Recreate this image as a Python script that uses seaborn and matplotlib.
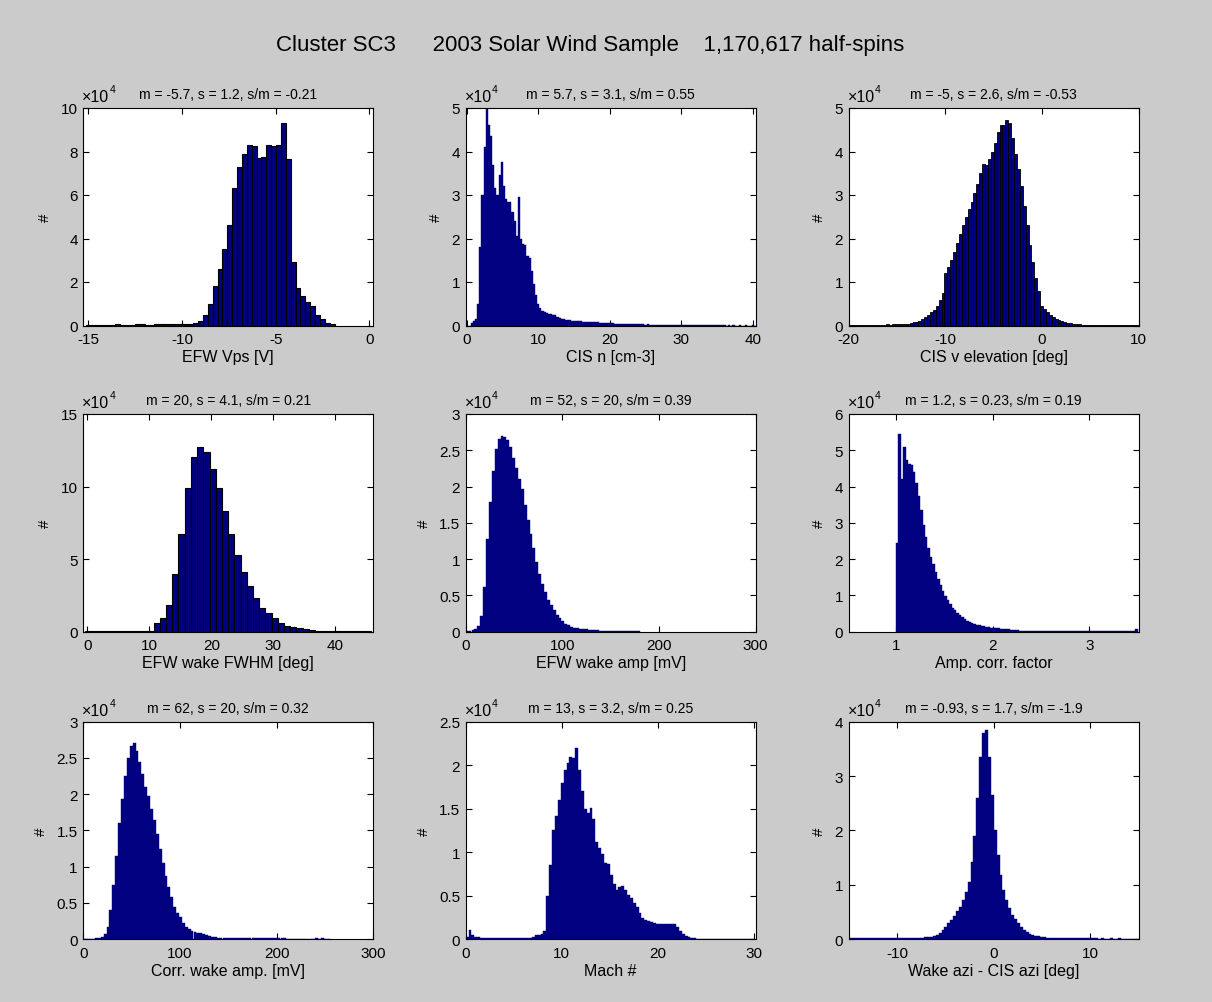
import numpy as np
import pandas as pd
import matplotlib
matplotlib.use("Agg")
import matplotlib.pyplot as plt
import seaborn as sns
from matplotlib.ticker import FuncFormatter, FixedLocator

# ---------------- data (bin heights in units of 1e4 counts) ----------------
SCALE = 1e4

main_title = "Cluster SC3      2003 Solar Wind Sample    1,170,617 half-spins"

# Panel 1: EFW Vps [V]
vps_start, vps_width = -15.12, 0.26
vps_counts = [0.01, 0.005, 0.01, 0.01, 0.01, 0.03, 0.05, 0.02, 0.02, 0.02, 0.05,
              0.05, 0.02, 0.03, 0.05, 0.05, 0.05, 0.05, 0.06, 0.06, 0.07, 0.08,
              0.12, 0.22, 0.5, 1.0, 1.8, 2.6, 3.5, 4.6, 6.3, 7.3, 7.9, 8.3, 8.25,
              7.7, 7.75, 8.3, 8.25, 8.3, 9.3, 7.65, 2.9, 1.73, 1.35, 1.1, 0.9,
              0.5, 0.3, 0.12, 0.05]

# Panel 2: CIS n [cm-3]
cisn_start, cisn_width = -0.05, 0.3
cisn_counts = [0, 0, 0.05, 0.1, 0.15, 0.5, 1.8, 3.0, 4.1, 4.98,
               4.6, 4.35, 3.7, 3.15, 3.0, 3.45, 3.75, 3.2, 2.9, 2.85,
               2.85, 2.6, 2.4, 2.05, 2.95, 2.0, 1.88, 1.85, 1.6, 1.55,
               1.26, 0.95, 0.69, 0.5, 0.4, 0.33, 0.3, 0.28, 0.27, 0.26,
               0.25, 0.24, 0.2, 0.18, 0.15, 0.14, 0.13, 0.12, 0.12, 0.11,
               0.11, 0.1, 0.1, 0.1, 0.09, 0.09, 0.085, 0.08, 0.08, 0.075,
               0.07, 0.07, 0.065, 0.06, 0.06, 0.055, 0.05, 0.05, 0.05, 0.045,
               0.045, 0.04, 0.04, 0.04, 0.035, 0.03, 0.03, 0.03, 0.03, 0.025,
               0.025, 0.025, 0.025, 0.02, 0.025, 0.02, 0.02, 0.02, 0.02, 0.02,
               0.02, 0.02, 0.018, 0.02, 0.018, 0.018, 0.015, 0.018, 0.015, 0.015,
               0.015, 0.015, 0.015, 0.012, 0.015, 0.012, 0.012, 0.012, 0.01, 0.012,
               0.01, 0.01, 0.01, 0.01, 0.01, 0.008, 0.01, 0.008, 0.005, 0.006,
               0.004, 0.0, 0.008, 0.0, 0.003, 0.0, 0.0, 0.006, 0.0, 0.0,
               0.006, 0.0, 0.0, 0.004, 0.0]

# Panel 3: CIS v elevation [deg]
elev_start, elev_width = -20.0, 0.3
elev_counts = [0.01, 0.01, 0.01, 0.01, 0.01, 0.01, 0.02, 0.01, 0.02, 0.02,
               0.02, 0.02, 0.02, 0.03, 0.02, 0.03, 0.03, 0.03, 0.03, 0.04,
               0.04, 0.05, 0.07, 0.08, 0.10, 0.14, 0.19, 0.24, 0.30, 0.36,
               0.45, 0.58, 0.75, 1.2, 1.35, 1.5, 1.7, 1.9, 2.1, 2.3,
               2.5, 2.68, 2.85, 3.05, 3.25, 3.5, 3.72, 3.7, 3.82, 3.98,
               4.2, 4.45, 4.6, 4.62, 4.72, 4.65, 4.3, 3.95, 3.6, 3.2,
               2.75, 2.3, 1.85, 1.45, 1.1, 0.8, 0.45, 0.38, 0.3, 0.25,
               0.2, 0.16, 0.13, 0.1, 0.08, 0.06, 0.05, 0.04, 0.03, 0.03,
               0.02, 0.02, 0.02, 0.02, 0.02, 0.02, 0.015, 0.015, 0.015, 0.01,
               0.01, 0.01, 0.01, 0.01, 0.01, 0.01, 0.01, 0.01, 0.02, 0.01]

# Panel 4: EFW wake FWHM [deg]
fwhm_start, fwhm_width = -0.3, 1.0
fwhm_counts = [0.005, 0.005, 0.005, 0.005, 0.005, 0.005, 0.005, 0.005, 0.005, 0.02, 0.05,
               0.57, 0.92, 1.83, 4.0, 6.7, 9.9, 12.06, 12.75, 12.4, 11.2, 9.9, 8.3,
               6.75, 5.26, 4.1, 3.15, 2.33, 1.65, 1.26, 0.92, 0.57, 0.41, 0.32,
               0.23, 0.16, 0.09, 0.05, 0.04, 0.03, 0.03, 0.02, 0.02, 0.02, 0.01, 0.01]

# Panel 5: EFW wake amp [mV]
wamp_start, wamp_width = 0.0, 3.0
wamp_counts = [0.005, 0.01, 0.02, 0.04, 0.08, 0.22, 0.62, 1.28, 1.78, 2.22,
               2.52, 2.66, 2.69, 2.68, 2.64, 2.55, 2.4, 2.26, 2.1, 1.96,
               1.74, 1.54, 1.34, 1.15, 0.96, 0.8, 0.66, 0.55, 0.44, 0.36,
               0.29, 0.23, 0.18, 0.15, 0.11, 0.085, 0.065, 0.05, 0.045, 0.04,
               0.035, 0.03, 0.025, 0.02, 0.018, 0.015, 0.012, 0.01, 0.01, 0.01,
               0.01, 0.008, 0.008, 0.007, 0.006, 0.006, 0.005, 0.005, 0.004, 0.004]

# Panel 6: Amp. corr. factor
acf_start, acf_width = 1.0, 0.025
acf_counts = [2.45, 5.45, 4.2, 5.1, 4.72, 4.62, 4.58, 4.4, 4.1, 3.75,
              3.35, 2.95, 2.6, 2.3, 2.05, 1.85, 1.65, 1.45, 1.28, 1.12,
              0.98, 0.86, 0.75, 0.66, 0.58, 0.51, 0.45, 0.39, 0.34, 0.3,
              0.27, 0.24, 0.21, 0.19, 0.17, 0.15, 0.14, 0.13, 0.12, 0.11,
              0.1, 0.1, 0.09, 0.08, 0.07, 0.06, 0.06, 0.05, 0.05, 0.05,
              0.03, 0.02, 0.02, 0.02, 0.02, 0.015, 0.015, 0.015, 0.015, 0.015,
              0.012, 0.012, 0.012, 0.01, 0.01, 0.01, 0.01, 0.01, 0.01, 0.01,
              0.01, 0.01, 0.01, 0.01, 0.01, 0.01, 0.01, 0.01, 0.01, 0.01,
              0.01, 0.01, 0.01, 0.01, 0.01, 0.01, 0.01, 0.01, 0.01, 0.01,
              0.01, 0.01, 0.01, 0.01, 0.01, 0.01, 0.01, 0.01, 0.02, 0.07]

# Panel 7: Corr. wake amp. [mV]
camp_start, camp_width = 0.0, 3.0
camp_counts = [0, 0, 0.002, 0.005, 0.01, 0.015, 0.03, 0.07, 0.17, 0.4,
               0.75, 1.15, 1.6, 1.93, 2.25, 2.5, 2.67, 2.71, 2.6, 2.45,
               2.28, 2.1, 1.97, 1.8, 1.64, 1.45, 1.25, 1.05, 0.87, 0.72,
               0.58, 0.45, 0.36, 0.3, 0.23, 0.17, 0.14, 0.12, 0.1, 0.09,
               0.08, 0.07, 0.06, 0.045, 0.035, 0.025, 0.02, 0.015, 0.015, 0.015,
               0.012, 0.012, 0.012, 0.01, 0.01, 0.01, 0.01, 0.01, 0.01, 0.01,
               0.01, 0.01, 0.01, 0.01, 0.01, 0.01, 0.012, 0.015, 0.015, 0.01,
               0.004, 0.002, 0.002, 0.002, 0.002, 0.002, 0.002, 0.002, 0.002, 0.002,
               0.01, 0.004, 0.01, 0.002, 0.0]

# Panel 8: Mach #
mach_start, mach_width = 0.0, 0.3
mach_counts = [0.03, 0.11, 0.05, 0.03, 0.02, 0.015, 0.01, 0.01, 0.01, 0.01,
               0.01, 0.01, 0.01, 0.01, 0.01, 0.01, 0.01, 0.01, 0.01, 0.01,
               0.01, 0.01, 0.015, 0.03, 0.05, 0.05, 0.06, 0.1, 0.5, 0.85,
               1.25, 1.42, 1.6, 1.8, 1.95, 2.03, 2.1, 2.08, 2.2, 1.95,
               1.7, 1.5, 1.45, 1.51, 1.38, 1.12, 1.05, 0.98, 0.88, 0.86,
               0.74, 0.64, 0.56, 0.6, 0.61, 0.57, 0.51, 0.47, 0.42, 0.37,
               0.3, 0.24, 0.22, 0.21, 0.2, 0.19, 0.18, 0.18, 0.17, 0.18,
               0.18, 0.17, 0.17, 0.14, 0.1, 0.06, 0.04, 0.025, 0.015, 0.01,
               0.008, 0.005, 0.005, 0.005, 0.004, 0.004, 0.003, 0.003, 0.002, 0.002,
               0.008, 0.0, 0.0, 0.0, 0.0, 0.008, 0.0, 0.0, 0.0, 0.008]

# Panel 9: Wake azi - CIS azi [deg]
azi_start, azi_width = -15.0, 0.3
azi_counts = [0.02, 0.02, 0.02, 0.02, 0.02, 0.02, 0.02, 0.02, 0.02, 0.02,
              0.02, 0.02, 0.02, 0.02, 0.02, 0.02, 0.025, 0.025, 0.025, 0.025,
              0.025, 0.025, 0.03, 0.03, 0.03, 0.03, 0.035, 0.04, 0.045, 0.06,
              0.08, 0.12, 0.17, 0.23, 0.3, 0.36, 0.43, 0.51, 0.6, 0.72,
              0.86, 1.05, 1.42, 1.9, 2.6, 3.35, 3.8, 3.84, 3.35, 2.65,
              2.0, 1.55, 1.18, 0.9, 0.72, 0.57, 0.45, 0.37, 0.3, 0.23,
              0.17, 0.13, 0.1, 0.08, 0.06, 0.05, 0.04, 0.035, 0.03, 0.03,
              0.03, 0.025, 0.025, 0.025, 0.02, 0.02, 0.02, 0.02, 0.02, 0.02,
              0.03, 0.03, 0.03, 0.025, 0.015, 0.015, 0.01, 0.015, 0.01, 0.01,
              0.02, 0.005, 0.01, 0.015, 0.005, 0.005, 0.0, 0.005, 0.0, 0.0]

titles = ["m = -5.7, s = 1.2, s/m = -0.21", "m = 5.7, s = 3.1, s/m = 0.55",
          "m = -5, s = 2.6, s/m = -0.53", "m = 20, s = 4.1, s/m = 0.21",
          "m = 52, s = 20, s/m = 0.39", "m = 1.2, s = 0.23, s/m = 0.19",
          "m = 62, s = 20, s/m = 0.32", "m = 13, s = 3.2, s/m = 0.25",
          "m = -0.93, s = 1.7, s/m = -1.9"]
xlabels = ["EFW Vps [V]", "CIS n [cm-3]", "CIS v elevation [deg]",
           "EFW wake FWHM [deg]", "EFW wake amp [mV]", "Amp. corr. factor",
           "Corr. wake amp. [mV]", "Mach #", "Wake azi - CIS azi [deg]"]
xticks_list = [[-15, -10, -5, 0], [0, 10, 20, 30, 40], [-20, -10, 0, 10],
               [0, 10, 20, 30, 40], [0, 100, 200, 300], [1, 2, 3],
               [0, 100, 200, 300], [0, 10, 20, 30], [-10, 0, 10]]
xlims = [(-15.27, 0.21), (-0.14, 40.4), (-20, 10), (-0.64, 46.1), (0, 300),
         (0.51, 3.51), (0, 300), (0, 30.2), (-15, 15)]
yticks_list = [[0, 2, 4, 6, 8, 10], [0, 1, 2, 3, 4, 5], [0, 1, 2, 3, 4, 5],
               [0, 5, 10, 15], [0, 0.5, 1, 1.5, 2, 2.5, 3], [0, 1, 2, 3, 4, 5, 6],
               [0, 0.5, 1, 1.5, 2, 2.5, 3], [0, 0.5, 1, 1.5, 2, 2.5], [0, 1, 2, 3, 4]]

panels = [(vps_start, vps_width, vps_counts), (cisn_start, cisn_width, cisn_counts),
          (elev_start, elev_width, elev_counts), (fwhm_start, fwhm_width, fwhm_counts),
          (wamp_start, wamp_width, wamp_counts), (acf_start, acf_width, acf_counts),
          (camp_start, camp_width, camp_counts), (mach_start, mach_width, mach_counts),
          (azi_start, azi_width, azi_counts)]
edged = [True, False, True, True, False, False, False, False, False]

# ---------------- style ----------------
sns.set_style("ticks")
plt.rcParams["font.family"] = ["Liberation Sans", "DejaVu Sans"]
plt.rcParams["axes.unicode_minus"] = False
plt.rcParams["text.color"] = "black"
plt.rcParams["axes.labelcolor"] = "black"
plt.rcParams["xtick.color"] = "black"
plt.rcParams["ytick.color"] = "black"

W, H = 1212, 1003
BG = "#cbcbcb"
NAVY = "#000080"

fig = plt.figure(figsize=(W / 100, H / 100), dpi=100, facecolor=BG)

col_left = [83.3, 465.7, 848.7]
row_top = [109.0, 415.0, 722.7]
AX_W, AX_H = 290.0, 217.5

fmt = FuncFormatter(lambda v, p: f"{v / SCALE:g}")

for i, (start, width, counts) in enumerate(panels):
    r, c = divmod(i, 3)
    l, t = col_left[c], row_top[r]
    ax = fig.add_axes([l / W, 1 - (t + AX_H) / H, AX_W / W, AX_H / H])
    ax.set_facecolor("white")
    n = len(counts)
    edges = [float(e) for e in (start + width * np.arange(n + 1))]
    df = pd.DataFrame({
        "x": start + width * (np.arange(n) + 0.5),
        "w": np.asarray(counts, dtype=float) * SCALE,
    })
    if edged[i]:
        ec, lw = "black", (0.8 if i != 2 else 0.6)
    else:
        ec, lw = NAVY, 0.3
    sns.histplot(data=df, x="x", weights="w", bins=edges, ax=ax, color=NAVY,
                 edgecolor=ec, linewidth=lw, alpha=1.0, legend=False)
    yt = yticks_list[i]
    ax.set_xlim(*xlims[i])
    ax.set_ylim(0, yt[-1] * SCALE)
    ax.xaxis.set_major_locator(FixedLocator(xticks_list[i]))
    ax.yaxis.set_major_locator(FixedLocator([v * SCALE for v in yt]))
    ax.yaxis.set_major_formatter(fmt)
    ax.tick_params(direction="in", top=True, right=True, length=4, width=0.8,
                   labelsize=11, colors="black")
    ax.tick_params(axis="x", pad=5)
    ax.tick_params(axis="y", pad=4)
    for s in ax.spines.values():
        s.set_visible(True)
        s.set_color("black")
        s.set_linewidth(0.8)
    ax.set_xlabel(xlabels[i], fontsize=11.5, labelpad=2, color="black")
    ax.set_ylabel("#", fontsize=11, labelpad=6, color="black")
    ax.set_title(titles[i], fontsize=10, pad=7, color="black")
    fig.text((l - 1) / W, 1 - (t - 7) / H, "\u00d710", fontsize=11.5,
             ha="left", va="baseline", color="black")
    fig.text((l + 26) / W, 1 - (t - 16) / H, "4", fontsize=7.5,
             ha="left", va="baseline", color="black")

fig.text(590 / W, 1 - 45 / H, main_title, fontsize=16, ha="center", va="center",
         color="black")

fig.savefig("out.png", dpi=100, facecolor=BG)
